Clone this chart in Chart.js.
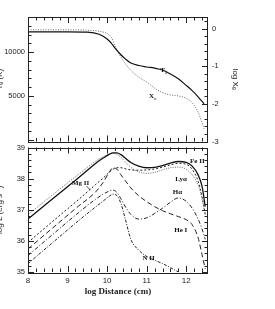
<!DOCTYPE html>
<html>
<head>
<meta charset="utf-8">
<script src="https://cdn.jsdelivr.net/npm/chart.js@4.4.0/dist/chart.umd.min.js"></script>
<style>
html, body { margin: 0; padding: 0; background: #fff; overflow: hidden; width: 275px; height: 309px; }
canvas { position: absolute; left: -8px; }
#top { top: 0; }
#bot { top: 140px; }
</style>
</head>
<body>
<canvas id="top" width="248" height="150"></canvas>
<canvas id="bot" width="248" height="169"></canvas>
<script>
// top panel: electron temperature and ionisation fraction
const topDist = [8, 9, 9.5, 9.8, 10.0, 10.1, 10.2, 10.33, 10.46, 10.6, 10.8, 11.0, 11.2, 11.4, 11.6, 11.8, 12.0, 12.15, 12.3, 12.45];
const tempK = [12300, 12300, 12270, 12030, 11500, 11050, 10440, 9780, 9220, 8750, 8470, 8300, 8170, 7950, 7500, 6950, 6200, 5600, 4900, 4100];
const logXe = [-0.03, -0.03, -0.04, -0.07, -0.13, -0.22, -0.45, -0.72, -0.93, -1.11, -1.29, -1.42, -1.58, -1.70, -1.76, -1.79, -1.85, -1.97, -2.22, -2.66];

// bottom panel: line luminosities
const botDist = [8, 8.6, 9.27, 9.7, 9.9, 10.05, 10.15, 10.25, 10.35, 10.45, 10.6, 10.8, 11.0, 11.2, 11.4, 11.6, 11.8, 12.0, 12.15, 12.3, 12.4, 12.48];
const feII   = [36.70, 37.33, 38.02, 38.48, 38.66, 38.78, 38.83, 38.83, 38.77, 38.67, 38.52, 38.40, 38.35, 38.36, 38.42, 38.50, 38.55, 38.52, 38.40, 38.12, 37.75, 37.10];
const lyA    = [36.84, 37.46, 38.13, 38.55, 38.70, 38.79, 38.81, 38.78, 38.68, 38.55, 38.36, 38.22, 38.17, 38.20, 38.28, 38.35, 38.37, 38.30, 38.12, 37.80, 37.35, 36.85];
const mgII   = [35.95, 36.60, 37.32, 37.80, 38.02, 38.20, 38.30, 38.35, 38.35, 38.32, 38.28, 38.27, 38.28, 38.31, 38.37, 38.44, 38.49, 38.46, 38.30, 37.92, 37.42, 36.85];
const heI    = [35.74, 36.39, 37.11, 37.56, 37.88, 38.20, 38.35, 38.30, 38.12, 37.95, 37.70, 37.45, 37.26, 37.10, 36.97, 36.87, 36.78, 36.68, 36.52, 36.10, 35.55, 35.10];
const hA     = [35.53, 36.18, 36.90, 37.33, 37.50, 37.60, 37.63, 37.55, 37.35, 37.12, 36.85, 36.70, 36.74, 36.88, 37.05, 37.24, 37.38, 37.27, 37.05, 36.70, 36.38, 36.05];
const nII    = [35.27, 35.92, 36.64, 37.08, 37.28, 37.43, 37.50, 37.45, 37.20, 36.75, 36.05, 35.70, 35.50, 35.38, 35.27, 35.14, 35.00, null, null, null, null, null];

const distTicks = [8, 9, 10, 11, 12];
const tempTicks = [5000, 10000];
const xeTicks = [0, -1, -2, -3];
const lumTicks = [35, 36, 37, 38, 39];

Chart.defaults.font.family = '"Liberation Sans", Arial, sans-serif';
Chart.defaults.font.size = 7.5;
Chart.defaults.color = '#222';

const stepTicks = (from, to, step) => {
    const out = [];
    for (let v = from; v <= to + 1e-9; v += step) out.push({value: Math.round(v * 1000) / 1000});
    return out;
};
const isMajor = (v, step) => Math.abs(v / step - Math.round(v / step)) < 1e-6;

const line = (dist, values, dash, color, width, axis) => ({
    data: dist.map((x, i) => ({x, y: values[i]})),
    borderColor: color,
    borderWidth: width,
    borderDash: dash,
    pointRadius: 0,
    fill: false,
    cubicInterpolationMode: 'monotone',
    yAxisID: axis
});

const inwardTicks = {
    id: 'inwardTicks',
    afterDraw(chart, args, opts) {
        const {ctx, chartArea: {left, right, top, bottom}} = chart;
        const sx = chart.scales.x;
        const sl = chart.scales[opts.left];
        const sr = chart.scales[opts.right];
        ctx.save();
        ctx.strokeStyle = '#222';
        ctx.lineWidth = 1;
        ctx.beginPath();
        sx.ticks.forEach(t => {
            const p = Math.round(sx.getPixelForValue(t.value)) + 0.5;
            const len = isMajor(t.value, opts.xMajor) ? 6 : 3.5;
            ctx.moveTo(p, bottom); ctx.lineTo(p, bottom - len);
            ctx.moveTo(p, top); ctx.lineTo(p, top + len);
        });
        sl.ticks.forEach(t => {
            const p = Math.round(sl.getPixelForValue(t.value)) + 0.5;
            const len = isMajor(t.value, opts.leftMajor) ? 6 : 3.5;
            ctx.moveTo(left, p); ctx.lineTo(left + len, p);
        });
        sr.ticks.forEach(t => {
            const p = Math.round(sr.getPixelForValue(t.value)) + 0.5;
            const len = isMajor(t.value, opts.rightMajor) ? 6 : 3.5;
            ctx.moveTo(right, p); ctx.lineTo(right - len, p);
        });
        ctx.stroke();
        ctx.strokeRect(Math.round(left) + 0.5, Math.round(top) + 0.5, Math.round(right - left) - 1, Math.round(bottom - top));
        ctx.restore();
    }
};

const curveLabels = {
    id: 'curveLabels',
    afterDraw(chart, args, opts) {
        const {ctx} = chart;
        const sx = chart.scales.x;
        ctx.save();
        ctx.fillStyle = '#111';
        ctx.strokeStyle = '#111';
        ctx.lineWidth = 0.8;
        ctx.textBaseline = 'middle';
        opts.items.forEach(it => {
            const sy = chart.scales[it.axis];
            const px = sx.getPixelForValue(it.x);
            const py = sy.getPixelForValue(it.y);
            ctx.font = 'bold 7px "Liberation Serif", serif';
            const w = ctx.measureText(it.text).width;
            ctx.font = 'bold 5px "Liberation Serif", serif';
            const ws = it.sub ? ctx.measureText(it.sub).width : 0;
            const x0 = px - (w + ws) / 2;
            ctx.font = 'bold 7px "Liberation Serif", serif';
            ctx.textAlign = 'left';
            ctx.fillText(it.text, x0, py);
            if (it.sub) {
                ctx.font = 'bold 5px "Liberation Serif", serif';
                ctx.fillText(it.sub, x0 + w + 0.3, py + 2.5);
            }
            if (it.leader) {
                const [x1, y1, x2, y2] = it.leader;
                ctx.beginPath();
                ctx.moveTo(sx.getPixelForValue(x1), sy.getPixelForValue(y1));
                ctx.lineTo(sx.getPixelForValue(x2), sy.getPixelForValue(y2));
                ctx.stroke();
            }
        });
        ctx.restore();
    }
};

const hiddenGrid = {display: false, drawTicks: false};

new Chart(document.getElementById('top'), {
    type: 'line',
    data: {
        datasets: [
            line(topDist, tempK, [], '#111', 1.2, 'y'),
            line(topDist, logXe, [1, 1.5], '#666', 1, 'y1')
        ]
    },
    options: {
        responsive: false,
        animation: false,
        events: [],
        layout: {padding: {top: 17, bottom: 5, left: 0, right: 0}},
        plugins: {
            legend: {display: false},
            tooltip: {enabled: false},
            inwardTicks: {left: 'y', right: 'y1', xMajor: 1, leftMajor: 5000, rightMajor: 1},
            curveLabels: {
                items: [
                    {text: 'T', sub: 'e', x: 11.43, y: 7950, axis: 'y'},
                    {text: 'X', sub: 'e', x: 11.15, y: -1.80, axis: 'y1'}
                ]
            }
        },
        scales: {
            x: {
                type: 'linear', min: 8, max: 12.55,
                ticks: {display: false},
                grid: hiddenGrid, border: {display: false},
                afterBuildTicks: s => { s.ticks = stepTicks(8, 12.4, 0.2); },
                afterFit: s => { s.height = 0; }
            },
            y: {
                position: 'left', min: -200, max: 14000,
                grid: hiddenGrid, border: {display: false},
                ticks: {autoSkip: false, padding: 3, callback: v => tempTicks.includes(v) ? String(v) : ''},
                title: {display: true, text: 'Tₑ (K)', font: {size: 8}, padding: {top: 3, bottom: 0}},
                afterBuildTicks: s => { s.ticks = stepTicks(0, 13000, 1000); },
                afterFit: s => { s.width = 36; }
            },
            y1: {
                position: 'right', min: -3, max: 0.31,
                grid: hiddenGrid, border: {display: false},
                ticks: {autoSkip: false, padding: 4, callback: v => xeTicks.includes(v) ? String(v) : ''},
                title: {display: true, text: 'log Xₑ', font: {size: 8}, padding: {top: 0, bottom: 0}},
                afterBuildTicks: s => { s.ticks = stepTicks(-3, 0.2, 0.2); },
                afterFit: s => { s.width = 32; }
            }
        }
    },
    plugins: [inwardTicks, curveLabels]
});

new Chart(document.getElementById('bot'), {
    type: 'line',
    data: {
        datasets: [
            line(botDist, feII, [], '#111', 1.3, 'y'),
            line(botDist, lyA, [1, 1.3], '#666', 1, 'y'),
            line(botDist, mgII, [2, 2], '#222', 1, 'y'),
            line(botDist, heI, [5, 3], '#222', 1, 'y'),
            line(botDist, hA, [4, 2, 1, 2], '#222', 1, 'y'),
            line(botDist, nII, [3, 1.5, 1, 1.5], '#222', 1, 'y')
        ]
    },
    options: {
        responsive: false,
        animation: false,
        events: [],
        layout: {padding: {top: 5, bottom: 0, left: 0, right: 32}},
        plugins: {
            legend: {display: false},
            tooltip: {enabled: false},
            inwardTicks: {left: 'y', right: 'y', xMajor: 1, leftMajor: 1, rightMajor: 1},
            curveLabels: {
                items: [
                    {text: 'Fe II', x: 12.28, y: 38.57, axis: 'y'},
                    {text: 'Lyα', x: 11.87, y: 37.97, axis: 'y'},
                    {text: 'Hα', x: 11.78, y: 37.56, axis: 'y'},
                    {text: 'He I', x: 11.86, y: 36.33, axis: 'y'},
                    {text: 'N II', x: 11.05, y: 35.45, axis: 'y'},
                    {text: 'Mg II', x: 9.33, y: 37.85, axis: 'y', leader: [9.48, 37.76, 9.58, 37.63]}
                ]
            }
        },
        scales: {
            x: {
                type: 'linear', min: 8, max: 12.55,
                grid: hiddenGrid, border: {display: false},
                ticks: {autoSkip: false, maxRotation: 0, padding: 4, font: {size: 8}, callback: v => distTicks.includes(v) ? String(v) : ''},
                title: {display: true, text: 'log Distance (cm)', font: {family: '"Liberation Serif", serif', weight: 'bold', size: 9}, padding: {top: 0, bottom: 11.6}},
                afterBuildTicks: s => { s.ticks = stepTicks(8, 12.4, 0.2); },
                afterFit: s => { s.height = 37; }
            },
            y: {
                position: 'left', min: 35, max: 39,
                grid: hiddenGrid, border: {display: false},
                ticks: {autoSkip: false, padding: 3, callback: v => lumTicks.includes(v) ? String(v) : ''},
                title: {display: true, text: 'log L (erg s⁻¹)', font: {size: 8}, padding: {top: 3, bottom: 0}},
                afterBuildTicks: s => { s.ticks = stepTicks(35, 39, 0.2); },
                afterFit: s => { s.width = 36; }
            }
        }
    },
    plugins: [inwardTicks, curveLabels]
});
</script>
</body>
</html>
